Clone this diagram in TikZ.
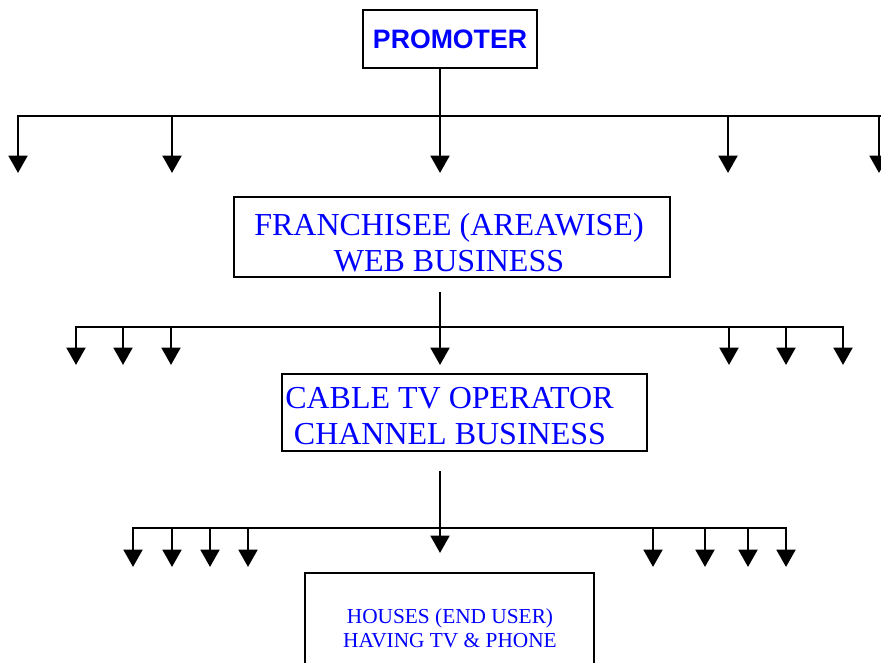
\documentclass[tikz,border=0pt]{standalone}
\usepackage{fontspec}
\setmainfont{Liberation Serif}
\newfontfamily\arialfont{Liberation Sans}
\usetikzlibrary{arrows.meta}

\tikzset{
  box/.style={draw, line width=2pt, inner sep=0pt},
  lbl/.style={text=blue, inner sep=0pt, align=center},
  bigtxt/.style={font=\fontsize{24}{27}\selectfont},
  smalltxt/.style={font=\fontsize{16}{18}\selectfont},
  bus/.style={line width=2pt, line cap=rect},
  drop/.style={line width=2.2pt, -{Triangle[length=13pt,width=14pt]}}
}

\begin{document}
\begin{tikzpicture}[x=0.75pt,y=0.75pt,yscale=-1,xscale=1]

        \clip (0,0) rectangle (881,662);

        % boxes
        \node[box, minimum width=130.5pt, minimum height=43.5pt, text=blue,
              font=\arialfont\bfseries\fontsize{20}{22}\selectfont] (promoter) at (450,39) {PROMOTER};
        \node[box, minimum width=327pt, minimum height=60pt] (fran) at (452,237) {};
        \node[lbl, bigtxt] (franT) at (449,243) {FRANCHISEE (AREAWISE)\\WEB BUSINESS};
        \node[box, minimum width=273.75pt, minimum height=57.75pt] (cable) at (464.5,412.5) {};
        \node[lbl, bigtxt, align=left, anchor=west] (cableT) at (285,416) {CABLE TV OPERATOR\\\hspace*{6.5pt}CHANNEL BUSINESS};
        \node[box, minimum width=216.75pt, minimum height=82.5pt] (houses) at (449.5,628) {};
        \node[lbl, smalltxt] (housesT) at (450,628) {HOUSES (END USER)\\HAVING TV \& PHONE};

        % level 1
        \coordinate (busAw) at (18,116);
        \coordinate (busAe) at (890,116);
        \coordinate (tipA) at (440,173);
        \draw[bus] (busAw) -- (busAe);
        \draw[drop] (tipA |- promoter.south) -- (tipA);
        \foreach \x [count=\i] in {18,172,728,879} {
            \coordinate (dropA\i) at (\x,173);
            \draw[drop] (dropA\i |- busAw) -- (dropA\i);
        }

        % level 2
        \coordinate (busBw) at (76,327);
        \coordinate (busBe) at (843,327);
        \coordinate (startB) at (440,292);
        \coordinate (tipB) at (440,365);
        \draw[bus] (busBw) -- (busBe);
        \draw[drop] (startB) -- (tipB);
        \foreach \x [count=\i] in {76,123,171,729,786,843} {
            \coordinate (dropB\i) at (\x,365);
            \draw[drop] (dropB\i |- busBw) -- (dropB\i);
        }

        % level 3
        \coordinate (busCw) at (133,528);
        \coordinate (busCe) at (786,528);
        \coordinate (startC) at (440,471);
        \coordinate (tipC) at (440,553);
        \draw[bus] (busCw) -- (busCe);
        \draw[drop] (startC) -- (tipC);
        \foreach \x [count=\i] in {133,172,210,248,653,705,748,786} {
            \coordinate (dropC\i) at (\x,567);
            \draw[drop] (dropC\i |- busCw) -- (dropC\i);
        }

\end{tikzpicture}
\end{document}
